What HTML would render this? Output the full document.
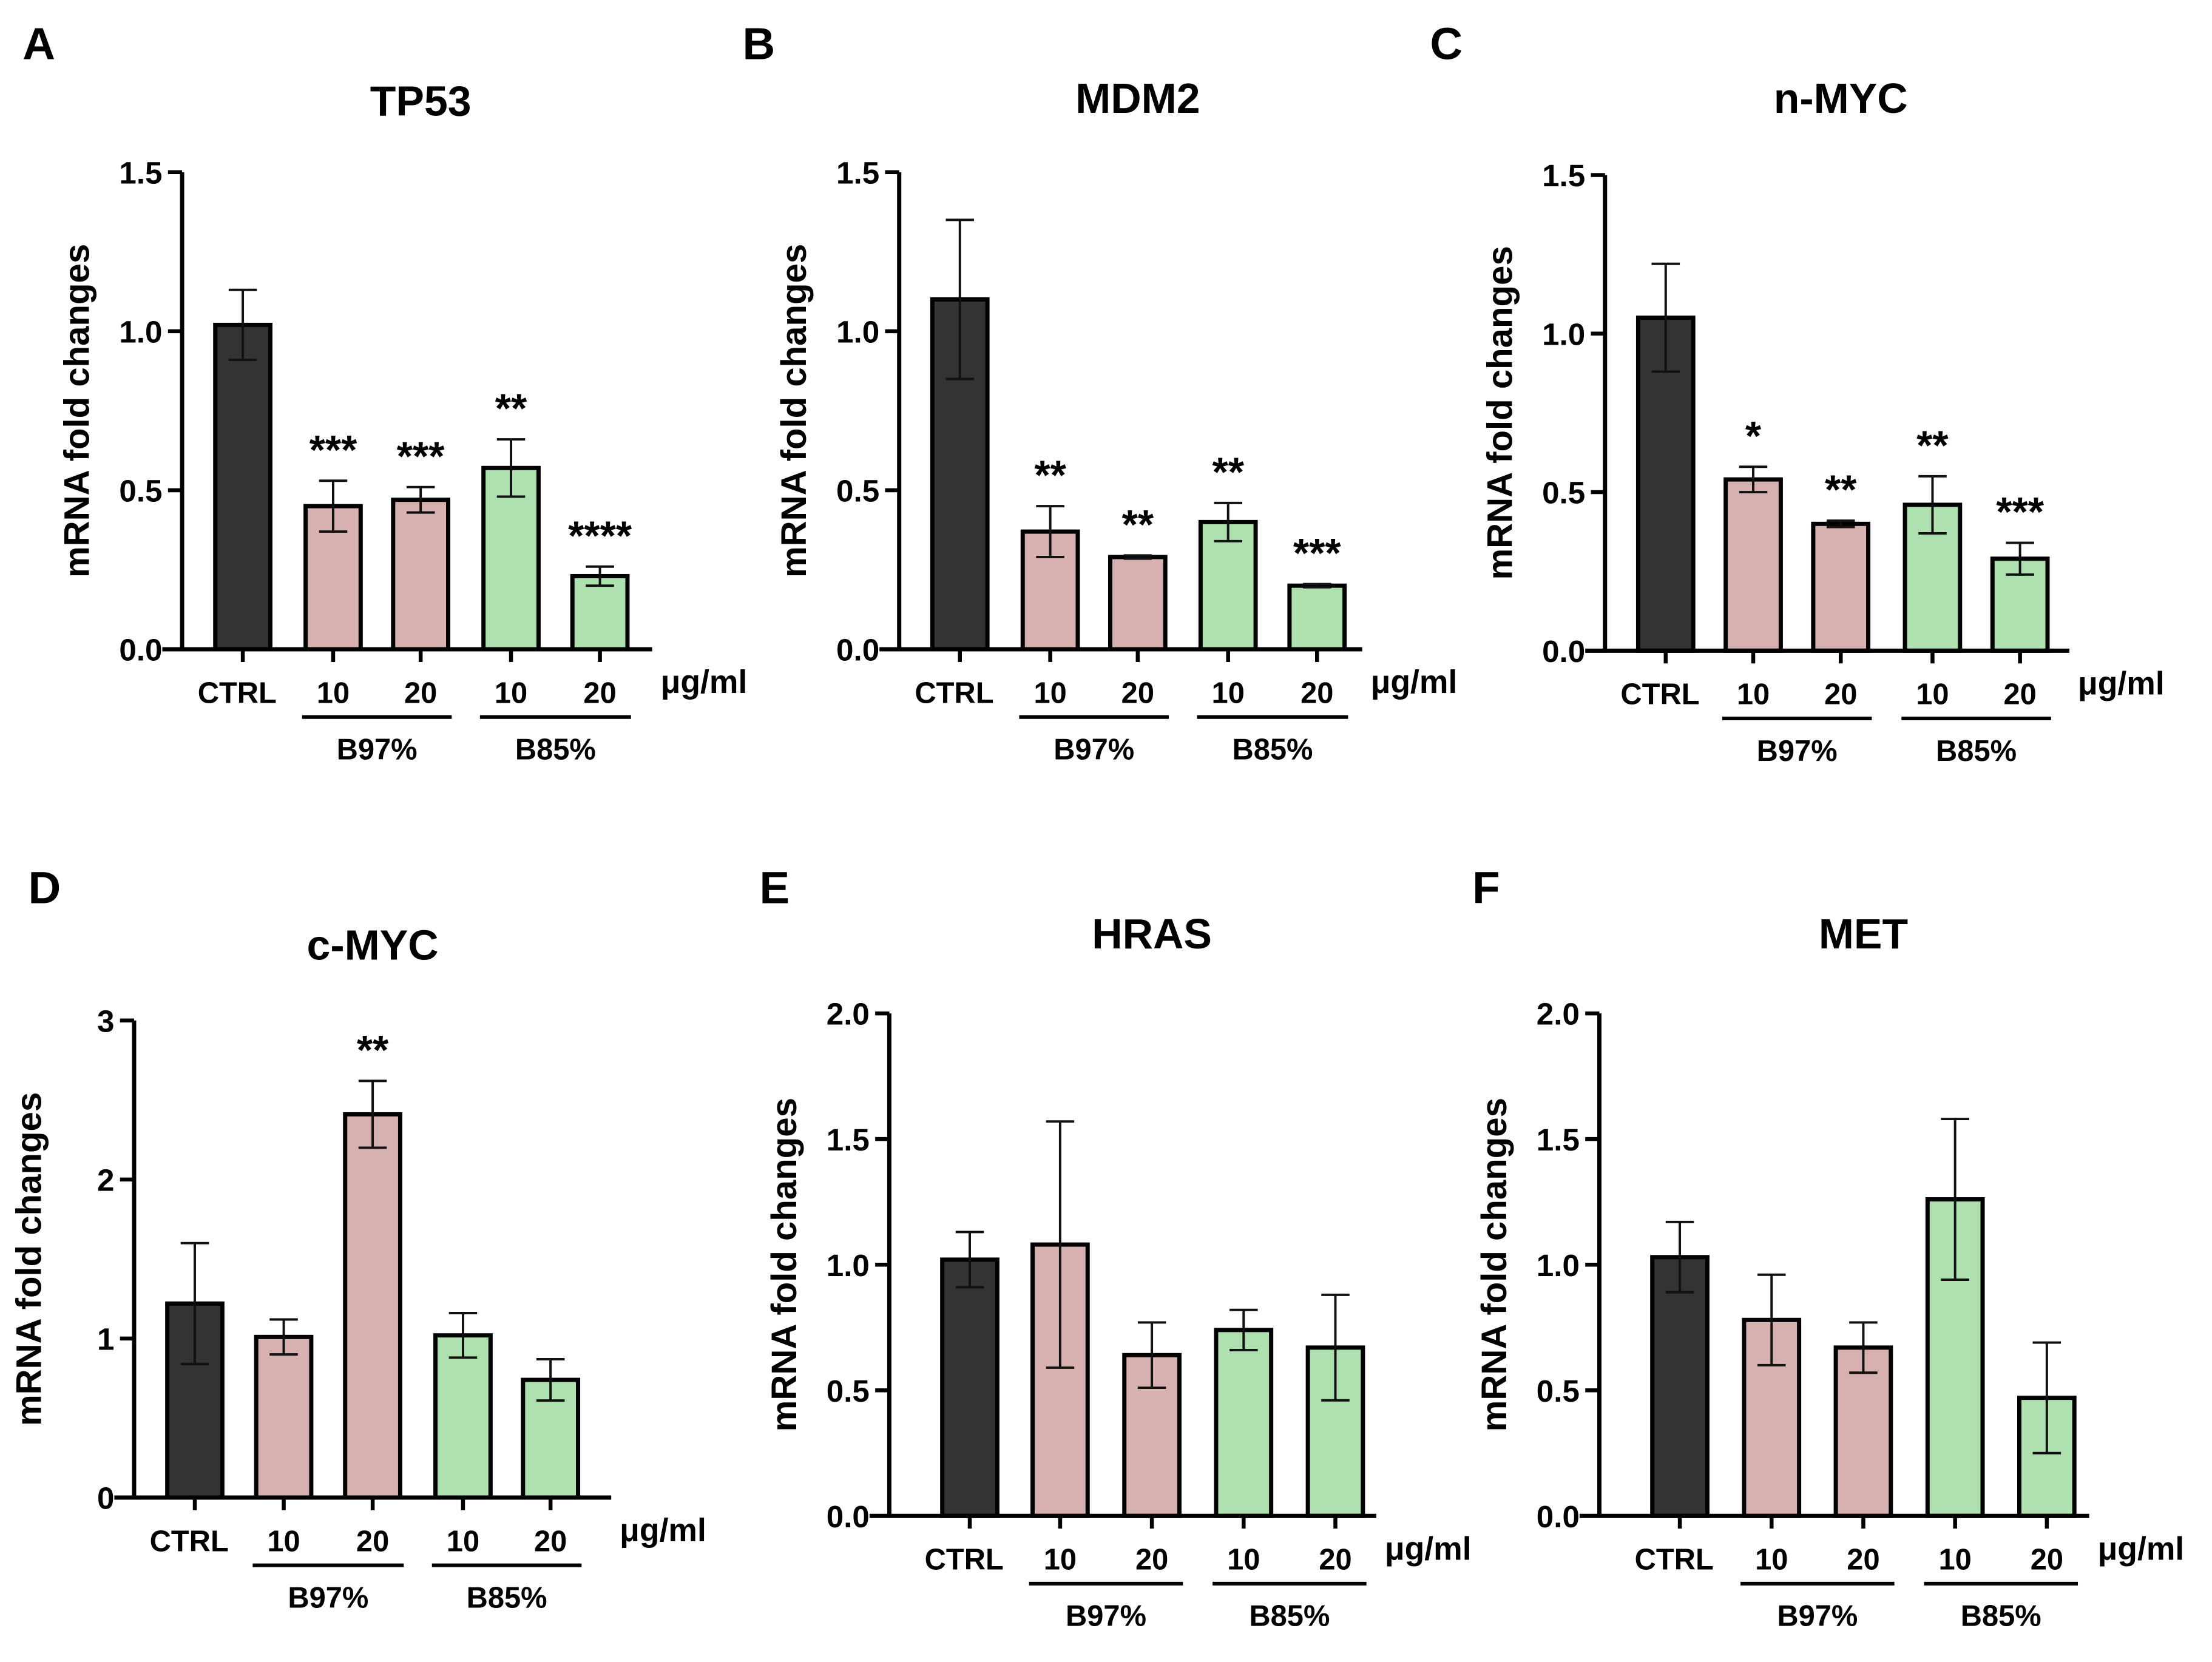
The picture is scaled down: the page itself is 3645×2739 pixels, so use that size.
<!DOCTYPE html>
<html><head><meta charset="utf-8"><style>
html,body{margin:0;padding:0;background:#fff}
svg{display:block}
text{font-family:"Liberation Sans",Arial,sans-serif;font-weight:bold;fill:#000}
</style></head><body>
<svg id="fig" width="3645" height="2739" viewBox="0 0 1567 1177.5" xmlns="http://www.w3.org/2000/svg"></svg>
<script>
const categories = ["CTRL","10","20","10","20"];
const groupLabels = ["B97%","B85%"];
const panelTitles = ["TP53","MDM2","n-MYC","c-MYC","HRAS","MET"];
const panelLetters = ["A","B","C","D","E","F"];
const tp53Values = [1.02,0.45,0.47,0.57,0.23];
const tp53Errors = [0.11,0.08,0.04,0.09,0.03];
const tp53Stars = ["","***","***","**","****"];
const mdm2Values = [1.10,0.37,0.29,0.40,0.20];
const mdm2Errors = [0.25,0.08,0.005,0.06,0.005];
const mdm2Stars = ["","**","**","**","***"];
const nmycValues = [1.05,0.54,0.40,0.46,0.29];
const nmycErrors = [0.17,0.04,0.01,0.09,0.05];
const nmycStars = ["","*","**","**","***"];
const cmycValues = [1.22,1.01,2.41,1.02,0.74];
const cmycErrors = [0.38,0.11,0.21,0.14,0.13];
const cmycStars = ["","","**","",""];
const hrasValues = [1.02,1.08,0.64,0.74,0.67];
const hrasErrors = [0.11,0.49,0.13,0.08,0.21];
const hrasStars = ["","","","",""];
const metValues = [1.03,0.78,0.67,1.26,0.47];
const metErrors = [0.14,0.18,0.10,0.32,0.22];
const metStars = ["","","","",""];
const ticks15 = [0,0.5,1.0,1.5];
const ticks15Labels = ["0.0","0.5","1.0","1.5"];
const ticks3 = [0,1,2,3];
const ticks3Labels = ["0","1","2","3"];
const ticks2 = [0,0.5,1.0,1.5,2.0];
const ticks2Labels = ["0.0","0.5","1.0","1.5","2.0"];

const colors = ["#333333","#d6b1b0","#d6b1b0","#aee0b0","#aee0b0"];
const panels = [
 {ax:129,y0:460,yT:122,ymax:1.5,xs:[172,236,298,362,425],xe:462,v:tp53Values,e:tp53Errors,s:tp53Stars,t:ticks15,tl:ticks15Labels,title:[298,70],letter:[16,42]},
 {ax:637,y0:460,yT:122,ymax:1.5,xs:[680,744,806,870,933],xe:965,v:mdm2Values,e:mdm2Errors,s:mdm2Stars,t:ticks15,tl:ticks15Labels,title:[806,68],letter:[526,42]},
 {ax:1137,y0:461,yT:124,ymax:1.5,xs:[1180,1242,1304,1369,1431],xe:1466,v:nmycValues,e:nmycErrors,s:nmycStars,t:ticks15,tl:ticks15Labels,title:[1304,68],letter:[1013,42]},
 {ax:95,y0:1061,yT:723,ymax:3,xs:[138,201,264,328,390],xe:433,v:cmycValues,e:cmycErrors,s:cmycStars,t:ticks3,tl:ticks3Labels,title:[264,668],letter:[20,640]},
 {ax:630,y0:1074,yT:718,ymax:2,xs:[687,751,816,881,946],xe:975,v:hrasValues,e:hrasErrors,s:hrasStars,t:ticks2,tl:ticks2Labels,title:[816,660],letter:[538,640]},
 {ax:1133,y0:1074,yT:718,ymax:2,xs:[1190,1255,1320,1385,1450],xe:1480,v:metValues,e:metErrors,s:metStars,t:ticks2,tl:ticks2Labels,title:[1320,660],letter:[1043,640]}
];
const svg=document.getElementById('fig');
const NS="http://www.w3.org/2000/svg";
function mk(tag,attrs,parent,txt){const el=document.createElementNS(NS,tag);for(const k in attrs)el.setAttribute(k,attrs[k]);if(txt!==undefined)el.textContent=txt;parent.appendChild(el);return el;}
panels.forEach((p,pi)=>{
  const g=mk('g',{},svg);
  
  
  const yS=v=>p.y0-(v/p.ymax)*(p.y0-p.yT);
  let t=mk('text',{x:p.letter[0],y:p.letter[1],'font-size':32},g,panelLetters[pi]);
  
  
  t=mk('text',{x:p.title[0],y:p.title[1]+12,'font-size':30,'text-anchor':'middle'},g,panelTitles[pi]);
  
  
  const cy=(p.y0+p.yT)/2;
  t=mk('text',{x:0,y:0,'font-size':25,'text-anchor':'middle',transform:`translate(${p.ax-66},${cy}) rotate(-90)`},g,'mRNA fold changes');
  
  
  p.v.forEach((v,i)=>{
    const x=p.xs[i],w=39,top=yS(v);
    const r=mk('rect',{x:x-w/2,y:top,width:w,height:p.y0-top,fill:colors[i],stroke:'#000','stroke-width':3},g);
    
    
    const hi=yS(v+p.e[i]),lo=yS(Math.max(0,v-p.e[i]));
    const eb=mk('path',{d:`M${x},${lo}V${hi}M${x-10},${hi}H${x+10}M${x-10},${lo}H${x+10}`,stroke:'#111','stroke-width':1.7,fill:'none'},g);
    
    
    if(p.s[i]){
      const st=mk('text',{x:x,y:hi-12,'font-size':29,'font-weight':'normal','text-anchor':'middle'},g,p.s[i]);
      
      
    }
    const tk=mk('line',{x1:x,x2:x,y1:p.y0,y2:p.y0+9,stroke:'#000','stroke-width':2.8},g);
    
    
    const lb=mk('text',{x:x-(i==0?4:0),y:p.y0+38,'font-size':21,'text-anchor':'middle'},g,categories[i]);
    
    
  });
  const ya=mk('line',{x1:p.ax,x2:p.ax,y1:p.yT,y2:p.y0,stroke:'#000','stroke-width':3},g);
  
  
  const xa=mk('line',{x1:p.ax-14,x2:p.xe,y1:p.y0,y2:p.y0,stroke:'#000','stroke-width':3},g);
  
  
  p.t.forEach((tv,j)=>{
    const y=yS(tv);
    const tk=mk('line',{x1:p.ax-10,x2:p.ax,y1:y,y2:y,stroke:'#000','stroke-width':2.8},g);
    
    
    const lb=mk('text',{x:p.ax-14,y:y+8,'font-size':22,'text-anchor':'end'},g,p.tl[j]);
    
    
  });
  const u=mk('text',{x:p.xe+6,y:p.y0+31,'font-size':23},g,'μg/ml');
  
  
  [[1,2],[3,4]].forEach((pr,k)=>{
    const x1=p.xs[pr[0]]-22,x2=p.xs[pr[1]]+22,yy=p.y0+48;
    const gl=mk('line',{x1:x1,x2:x2,y1:yy,y2:yy,stroke:'#000','stroke-width':2.6},g);
    
    
    const gt=mk('text',{x:(x1+x2)/2,y:yy+30,'font-size':21,'text-anchor':'middle'},g,groupLabels[k]);
    
    
  });
});
</script>
</body></html>
